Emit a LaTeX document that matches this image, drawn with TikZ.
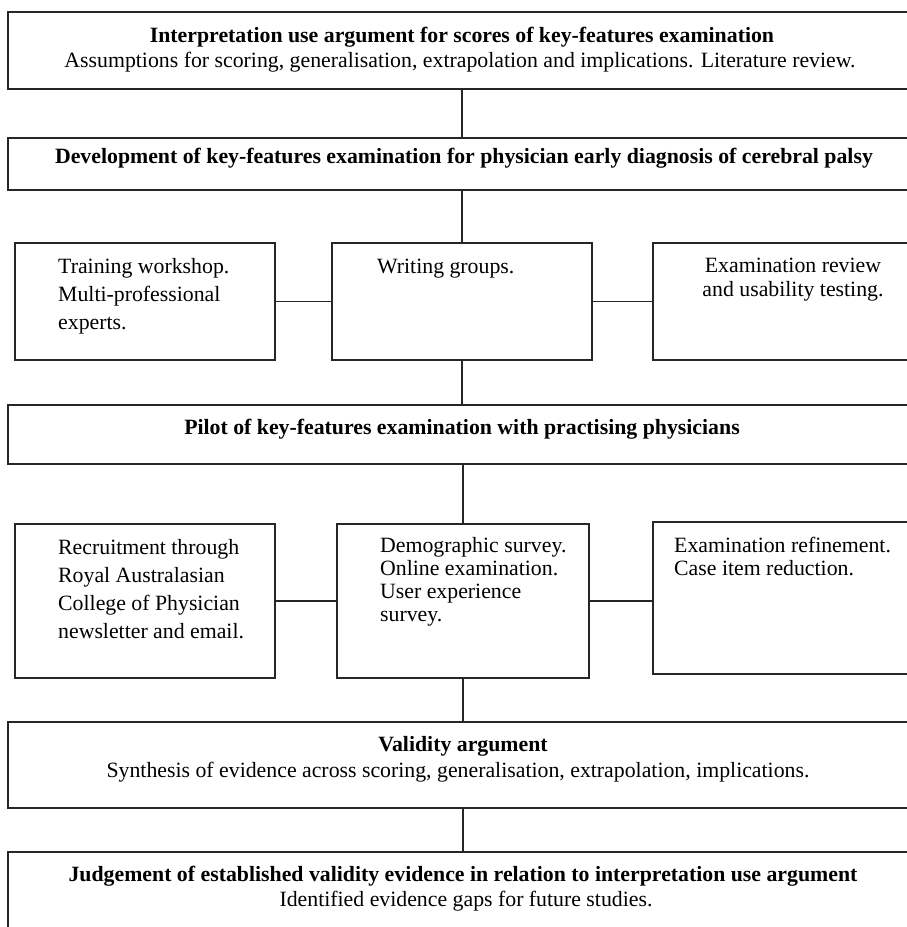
\documentclass[tikz,border=0pt]{standalone}
\usepackage{fontspec}
\setmainfont{Liberation Serif}
\begin{document}
\begin{tikzpicture}[x=1pt,y=-1pt,
  box/.style={draw=black!85, line width=1.3pt, inner sep=0pt, outer sep=0pt, anchor=north west},
  txt/.style={inner sep=0pt, font=\fontsize{21.8}{25}\selectfont},
  ttl/.style={txt, anchor=base, font=\fontsize{21.8}{25}\selectfont\bfseries},
  ctr/.style={txt, anchor=base},
  lft/.style={txt, anchor=base west},
  link/.style={draw=black!85, line width=1.2pt}]
\useasboundingbox (0,0) rectangle (907,927);
% boxes
\node[box, minimum width=912pt, minimum height=77pt] (b1) at (8,12) {};
\node[box, minimum width=912pt, minimum height=52pt] (b2) at (8,138) {};
\node[box, minimum width=260pt, minimum height=117pt] (r1a) at (15,243) {};
\node[box, minimum width=260pt, minimum height=117pt] (r1b) at (332,243) {};
\node[box, minimum width=265pt, minimum height=117pt] (r1c) at (653,243) {};
\node[box, minimum width=912pt, minimum height=59pt] (b3) at (8,405) {};
\node[box, minimum width=260pt, minimum height=154pt] (r2a) at (15,524) {};
\node[box, minimum width=252pt, minimum height=154pt] (r2b) at (337,524) {};
\node[box, minimum width=265pt, minimum height=152pt] (r2c) at (653,522) {};
\node[box, minimum width=912pt, minimum height=86pt] (b4) at (8,722) {};
\node[box, minimum width=912pt, minimum height=90pt] (b5) at (8,852) {};
% connector columns
\coordinate (cu) at (462,0);
\coordinate (cl) at (463,0);
\draw[link] (b1.south -| cu) -- (b2.north -| cu);
\draw[link] (b2.south -| cu) -- (r1b.north -| cu);
\draw[link] (r1b.south -| cu) -- (b3.north -| cu);
\draw[link] (b3.south -| cl) -- (r2b.north -| cl);
\draw[link] (r2b.south -| cl) -- (b4.north -| cl);
\draw[link] (b4.south -| cl) -- (b5.north -| cl);
\draw[link] (r1a.east) -- (r1b.west);
\draw[link] (r1b.east) -- (r1c.west);
\draw[link] (r2a.east) -- (r2b.west);
\draw[link] (r2b.east) -- (r2b.east -| r2c.west);
% texts
\node[ttl] (t1a) at (462,42) {Interpretation use argument for scores of key-features examination};
\node[ctr] (t1b) at (460,67) {Assumptions for scoring, generalisation, extrapolation and implications. Literature review.};
\node[ttl] (t2) at (464,163) {Development of key-features examination for physician early diagnosis of cerebral palsy};
\node[lft] (ta1) at (58,273) {Training workshop.};
\node[lft] (ta2) at (58,301) {Multi-professional};
\node[lft] (ta3) at (58,329) {experts.};
\node[lft] (tb1) at (377,273) {Writing groups.};
\node[ctr] (tc1) at (793,272) {Examination review};
\node[ctr] (tc2) at (793,296) {and usability testing.};
\node[ttl] (t3) at (462,434) {Pilot of key-features examination with practising physicians};
\node[lft] (ua1) at (58,554) {Recruitment through};
\node[lft] (ua2) at (58,582) {Royal Australasian};
\node[lft] (ua3) at (58,610) {College of Physician};
\node[lft] (ua4) at (58,638) {newsletter and email.};
\node[lft] (ub1) at (380,552) {Demographic survey.};
\node[lft] (ub2) at (380,575) {Online examination.};
\node[lft] (ub3) at (380,598) {User experience};
\node[lft] (ub4) at (380,621) {survey.};
\node[lft] (uc1) at (674,552) {Examination refinement.};
\node[lft] (uc2) at (674,575) {Case item reduction.};
\node[ttl] (t4a) at (463,751) {Validity argument};
\node[ctr] (t4b) at (458,777) {Synthesis of evidence across scoring, generalisation, extrapolation, implications.};
\node[ttl] (t5a) at (463,881) {Judgement of established validity evidence in relation to interpretation use argument};
\node[ctr] (t5b) at (466,906) {Identified evidence gaps for future studies.};
\end{tikzpicture}
\end{document}
